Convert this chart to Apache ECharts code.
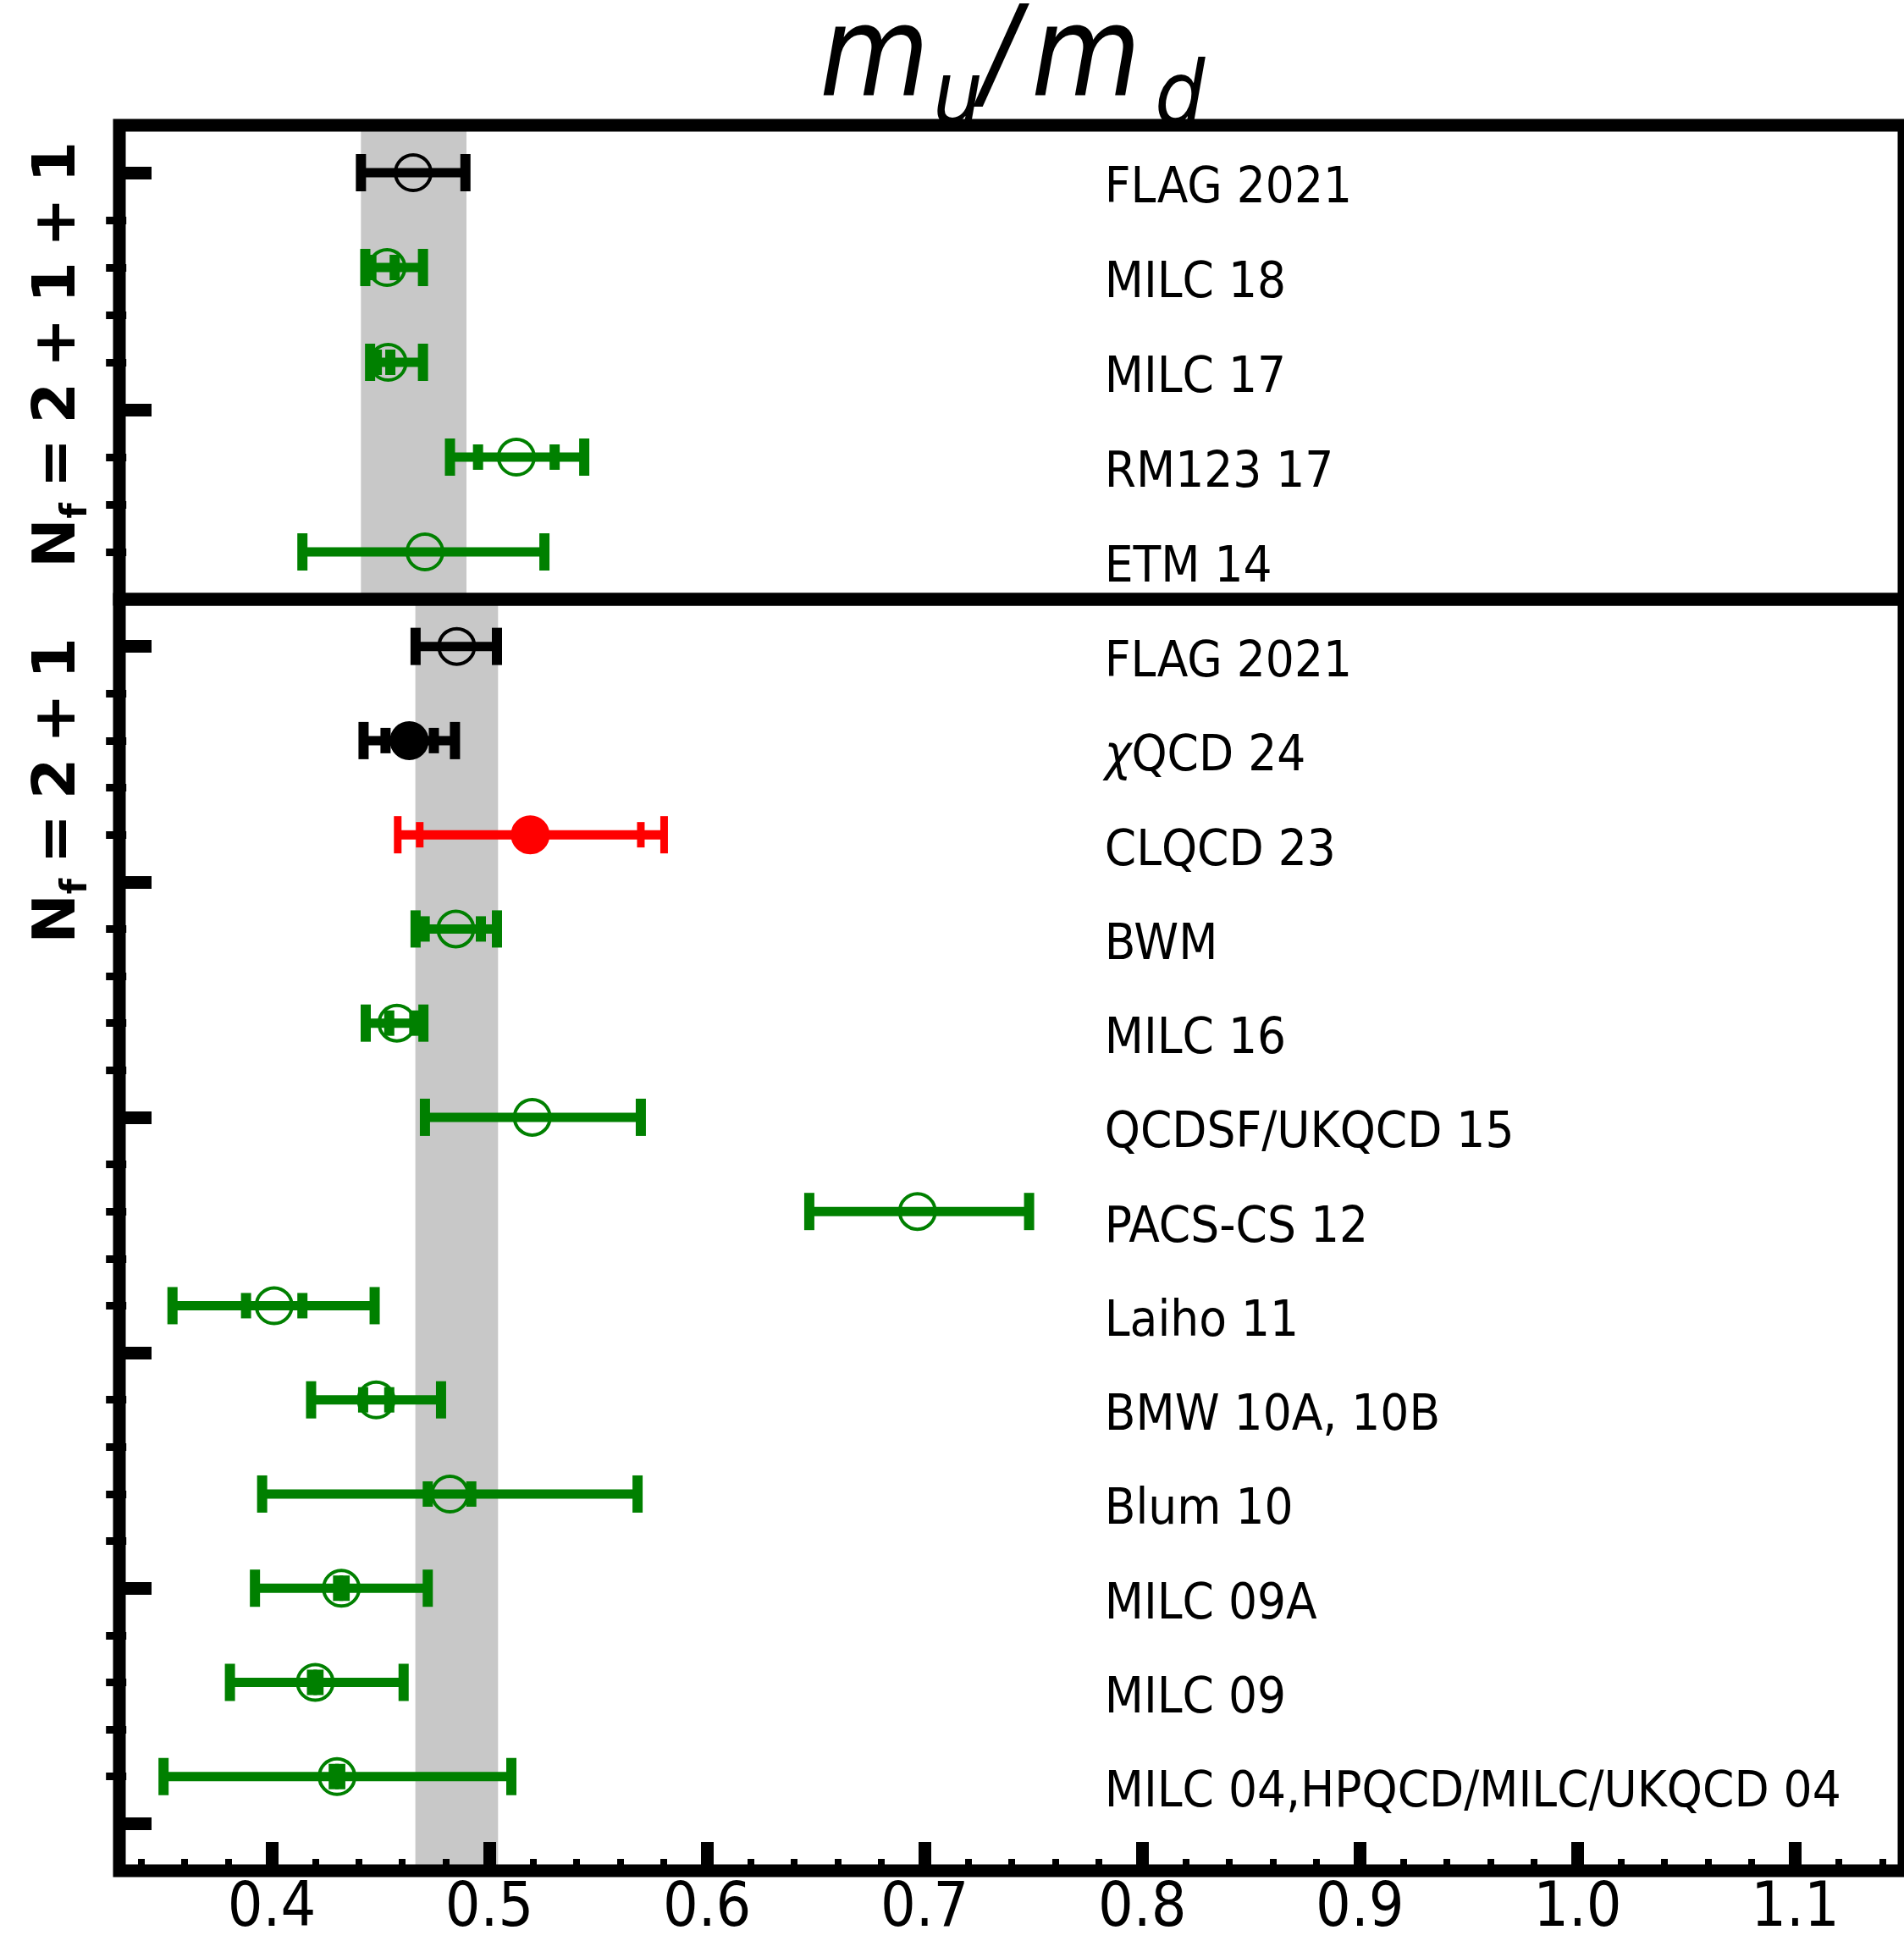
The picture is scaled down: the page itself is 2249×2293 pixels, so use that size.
<!DOCTYPE html>
<html>
<head>
<meta charset="utf-8">
<script src="https://cdn.jsdelivr.net/npm/echarts@6/dist/echarts.min.js"></script>
<style>
html, body { margin: 0; padding: 0; background: #fff; }
#chart { width: 2249px; height: 2293px; }
</style>
</head>
<body>
<div id="chart"></div>
<script>
// ---- data: Nf = 2+1+1 panel ----
const topLabels  = ['FLAG 2021', 'MILC 18', 'MILC 17', 'RM123 17', 'ETM 14'];
const topCenter  = [0.465, 0.453, 0.4535, 0.5124, 0.4704];
const topLo      = [0.441, 0.443, 0.4452, 0.4819, 0.4141];
const topHi      = [0.489, 0.4695, 0.4695, 0.5436, 0.5253];
const topInLo    = [null, 0.4458, 0.4483, 0.4948, null];
const topInHi    = [null, 0.4565, 0.4545, 0.5300, null];
const topColor   = ['black', 'green', 'green', 'green', 'green'];
const topFilled  = [false, false, false, false, false];
const topBand    = [0.441, 0.4895];

// ---- data: Nf = 2+1 panel ----
const bottomLabels = ['FLAG 2021', 'χQCD 24', 'CLQCD 23', 'BWM', 'MILC 16', 'QCDSF/UKQCD 15',
  'PACS-CS 12', 'Laiho 11', 'BMW 10A, 10B', 'Blum 10', 'MILC 09A', 'MILC 09',
  'MILC 04,HPQCD/MILC/UKQCD 04'];
const bottomCenter = [0.485, 0.4632, 0.5188, 0.4846, 0.4575, 0.5197, 0.6967, 0.4011, 0.448, 0.4819, 0.432, 0.420, 0.430];
const bottomLo     = [0.4661, 0.4422, 0.4579, 0.4661, 0.4432, 0.4704, 0.647, 0.3544, 0.4181, 0.3956, 0.3923, 0.3808, 0.3503];
const bottomHi     = [0.5035, 0.4842, 0.5803, 0.5035, 0.4697, 0.5696, 0.748, 0.4473, 0.4778, 0.5681, 0.4717, 0.4606, 0.5101];
const bottomInLo   = [null, 0.4523, 0.468, 0.4703, 0.454, null, null, 0.3882, 0.442, 0.4717, 0.4305, 0.4185, 0.4285];
const bottomInHi   = [null, 0.4745, 0.5696, 0.4961, 0.4655, null, null, 0.4141, 0.454, 0.4917, 0.4335, 0.4215, 0.4315];
const bottomColor  = ['black', 'black', 'red', 'green', 'green', 'green', 'green', 'green', 'green', 'green', 'green', 'green', 'green'];
const bottomFilled = [false, true, true, false, false, false, false, false, false, false, false, false, false];
const bottomBand   = [0.466, 0.504];

// ---- axes ----
const xTicks = [0.4, 0.5, 0.6, 0.7, 0.8, 0.9, 1.0, 1.1];
const xTickLabels = ['0.4', '0.5', '0.6', '0.7', '0.8', '0.9', '1.0', '1.1'];
const X_MIN = 0.33, X_MAX = 1.15;
const LABEL_X = 0.7827;

const FONT = "'DejaVu Sans Condensed', 'DejaVu Sans', sans-serif";
const COLORS = { black: '#000000', green: '#008000', red: '#ff0000' };

const xMinor = [];
for (let k = 17; k <= 57; k++) { if (k % 5) xMinor.push(k / 50); }

function yTicks(maxRow) {
  const major = [], minor = [];
  for (let k = 0; k <= maxRow * 2; k++) {
    (k % 5 === 0 ? major : minor).push(k / 2);
  }
  return { major, minor };
}
const topTicks = yTicks(4);
const bottomTicks = yTicks(12.5);

function bandSeries(band, gi) {
  return {
    type: 'custom', xAxisIndex: gi, yAxisIndex: gi * 2, z: 1, silent: true,
    data: [band],
    renderItem: (params, api) => {
      const cs = params.coordSys;
      const x1 = api.coord([band[0], 0])[0];
      const x2 = api.coord([band[1], 0])[0];
      return { type: 'rect', shape: { x: x1, y: cs.y, width: x2 - x1, height: cs.height },
        style: { fill: '#c8c8c8' } };
    }
  };
}

function errorSeries(p, gi) {
  return {
    type: 'custom', xAxisIndex: gi, yAxisIndex: gi * 2, z: 3, silent: true,
    data: p.center.map((v, i) => [v, i]),
    renderItem: (params, api) => {
      const i = params.dataIndex;
      const color = COLORS[p.color[i]];
      const y = api.coord([p.center[i], i])[1];
      const px = v => api.coord([v, i])[0];
      const capW = p.color[i] === 'red' ? 9 : 12;
      const line = (x1, y1, x2, y2, w) => ({ type: 'line', shape: { x1, y1, x2, y2 },
        style: { stroke: color, lineWidth: w } });
      const ch = [];
      ch.push(line(px(p.lo[i]), y, px(p.hi[i]), y, 11));
      ch.push(line(px(p.lo[i]), y - 22, px(p.lo[i]), y + 22, capW));
      ch.push(line(px(p.hi[i]), y - 22, px(p.hi[i]), y + 22, capW));
      if (p.inLo[i] != null) {
        ch.push(line(px(p.inLo[i]), y - 15, px(p.inLo[i]), y + 15, capW));
        ch.push(line(px(p.inHi[i]), y - 15, px(p.inHi[i]), y + 15, capW));
      }
      ch.push({ type: 'circle', shape: { cx: px(p.center[i]), cy: y, r: 21 },
        style: { fill: p.filled[i] ? color : 'none', stroke: color, lineWidth: 4 } });
      const txt = p.labels[i].replace('χ', '{it|χ}');
      ch.push({ type: 'text', x: px(LABEL_X), y: y + 20,
        style: { text: txt, fontSize: 59.5, fontFamily: FONT, fill: '#000',
          align: 'left', verticalAlign: 'middle',
          rich: { it: { fontSize: 59.5, fontFamily: FONT, fontStyle: 'italic' } } } });
      return { type: 'group', children: ch };
    }
  };
}

const topPanel = { labels: topLabels, center: topCenter, lo: topLo, hi: topHi,
  inLo: topInLo, inHi: topInHi, color: topColor, filled: topFilled };
const bottomPanel = { labels: bottomLabels, center: bottomCenter, lo: bottomLo, hi: bottomHi,
  inLo: bottomInLo, inHi: bottomInHi, color: bottomColor, filled: bottomFilled };

const PX_PER_UNIT = 2590;
const gridW = (X_MAX - X_MIN) * PX_PER_UNIT;
const BOTTOM_H = 1509;

// major ticks on the left; minor ticks on a second axis shifted onto the left edge
function yAxisPair(gi, max, ticks) {
  const base = { gridIndex: gi, type: 'value', inverse: true, min: -0.5, max: max, z: 10,
    splitLine: { show: false }, axisLabel: { show: false } };
  return [
    Object.assign({}, base, { position: 'left', axisLine: { show: false, onZero: false },
      axisTick: { inside: true, length: 38, customValues: ticks.major,
        lineStyle: { color: '#000', width: 15 } } }),
    Object.assign({}, base, { position: 'right', offset: -gridW, axisLine: { show: false, onZero: false },
      axisTick: { inside: false, length: 24, customValues: ticks.minor,
        lineStyle: { color: '#000', width: 9 } } })
  ];
}

const chart = echarts.init(document.getElementById('chart'));
chart.setOption({
  backgroundColor: '#fff',
  animation: false,
  grid: [
    { left: 141, top: 148, width: gridW, height: 560, show: true, z: 10,
      borderColor: '#000', borderWidth: 15, backgroundColor: 'transparent' },
    { left: 141, top: 708, width: gridW, height: BOTTOM_H, show: true, z: 10,
      borderColor: '#000', borderWidth: 15, backgroundColor: 'transparent' }
  ],
  xAxis: [
    { gridIndex: 0, type: 'value', min: X_MIN, max: X_MAX, show: false },
    { gridIndex: 1, type: 'value', min: X_MIN, max: X_MAX, position: 'bottom', z: 10,
      axisLine: { show: false, onZero: false }, splitLine: { show: false },
      axisTick: { inside: true, length: 34, customValues: xTicks, lineStyle: { color: '#000', width: 15 } },
      axisLabel: { customValues: xTicks, margin: 10, fontSize: 73, fontFamily: FONT, color: '#000',
        formatter: v => xTickLabels[xTicks.findIndex(t => Math.abs(t - v) < 1e-9)] } },
    { gridIndex: 1, type: 'value', min: X_MIN, max: X_MAX, position: 'top', offset: -BOTTOM_H, z: 10,
      axisLine: { show: false, onZero: false }, splitLine: { show: false }, axisLabel: { show: false },
      axisTick: { inside: false, length: 21, customValues: xMinor, lineStyle: { color: '#000', width: 8 } } }
  ],
  yAxis: [].concat(yAxisPair(0, 4.5, topTicks), yAxisPair(1, 13, bottomTicks)),
  series: [
    bandSeries(topBand, 0),
    bandSeries(bottomBand, 1),
    errorSeries(topPanel, 0),
    errorSeries(bottomPanel, 1)
  ],
  graphic: [
    { type: 'text', x: 968, y: 118 - 0.297 * 148, style: { text: 'm', fontSize: 148, fontStyle: 'italic', fontFamily: FONT, fill: '#000', verticalAlign: 'middle' } },
    { type: 'text', x: 1102, y: 150 - 0.297 * 104, style: { text: 'u', fontSize: 104, fontStyle: 'italic', fontFamily: FONT, fill: '#000', verticalAlign: 'middle' } },
    { type: 'text', x: 1159, y: 118 - 0.297 * 148, style: { text: '/', fontSize: 148, fontStyle: 'italic', fontFamily: FONT, fill: '#000', verticalAlign: 'middle' } },
    { type: 'text', x: 1218, y: 118 - 0.297 * 148, style: { text: 'm', fontSize: 148, fontStyle: 'italic', fontFamily: FONT, fill: '#000', verticalAlign: 'middle' } },
    { type: 'text', x: 1364, y: 150 - 0.297 * 104, style: { text: 'd', fontSize: 104, fontStyle: 'italic', fontFamily: FONT, fill: '#000', verticalAlign: 'middle' } },
    { type: 'text', x: 70, y: 419, rotation: Math.PI / 2,
      style: { text: '{n|N}{s|f}{n|\u2005=\u20052\u2005+\u20051\u2005+\u20051}', align: 'center', verticalAlign: 'middle',
        rich: { n: { fontSize: 70, fontWeight: 'bold', fontFamily: 'DejaVu Sans', lineHeight: 84 },
                s: { fontSize: 42, fontWeight: 'bold', fontFamily: 'DejaVu Sans', lineHeight: 42, verticalAlign: 'bottom' } } } },
    { type: 'text', x: 70, y: 934, rotation: Math.PI / 2,
      style: { text: '{n|N}{s|f}{n|\u2005=\u20052\u2005+\u20051}', align: 'center', verticalAlign: 'middle',
        rich: { n: { fontSize: 70, fontWeight: 'bold', fontFamily: 'DejaVu Sans', lineHeight: 84 },
                s: { fontSize: 42, fontWeight: 'bold', fontFamily: 'DejaVu Sans', lineHeight: 42, verticalAlign: 'bottom' } } } }
  ]
});
</script>
</body>
</html>
